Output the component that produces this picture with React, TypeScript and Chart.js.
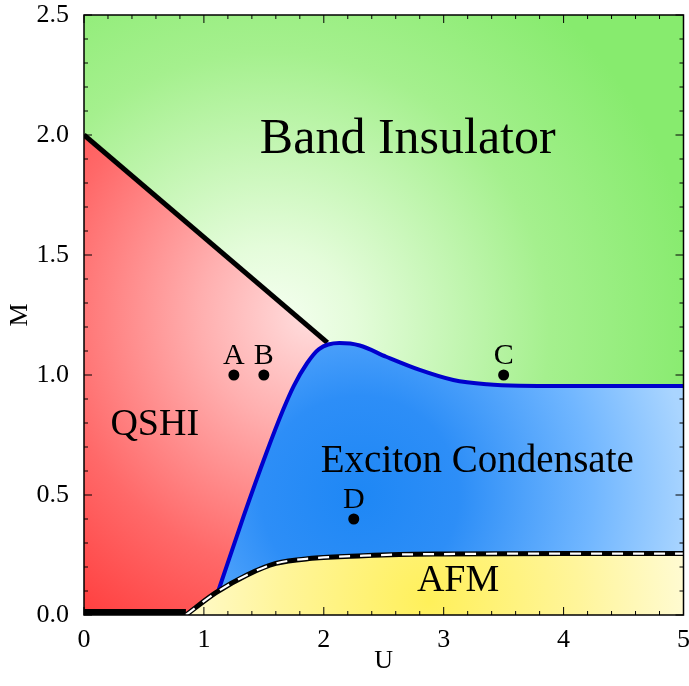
import React, { useEffect, useRef } from 'react';
import { Chart, registerables } from 'chart.js';

Chart.register(...registerables);

// ---------- data (U, M) ----------
const TOP_U = [0, 5];
const TOP_M = [2.5, 2.5];

const QSHI_BI_U = [0, 2.03];
const QSHI_BI_M = [2.0, 1.135];

const EC_U = [1.12, 1.33, 1.52, 1.66, 1.75, 1.86, 1.96, 2.13, 2.3, 2.52, 2.8, 3.08, 3.36, 3.63, 4.0, 4.5, 5.0];
const EC_M = [0.1, 0.41, 0.674, 0.854, 0.955, 1.049, 1.108, 1.133, 1.123, 1.076, 1.021, 0.979, 0.961, 0.955, 0.954, 0.954, 0.954];

const AFM_U = [0.85, 1.1, 1.36, 1.6, 1.9, 2.33, 2.63, 3.0, 4.0, 5.0];
const AFM_M = [0, 0.093, 0.167, 0.215, 0.236, 0.247, 0.252, 0.254, 0.256, 0.256];

const FLOOR_U = [0, 0.85];
const FLOOR_M = [0, 0];

const POINT_NAMES = ['A', 'B', 'C', 'D'];
const POINT_U = [1.25, 1.5, 3.5, 2.25];
const POINT_M = [1.0, 1.0, 1.0, 0.4];

const PHASE_NAMES = ['Band Insulator', 'QSHI', 'Exciton Condensate', 'AFM'];
const PHASE_U = [2.7, 0.59, 3.28, 3.12];
const PHASE_M = [1.98, 0.79, 0.64, 0.14];

const X_TICK_LABELS = ['0', '1', '2', '3', '4', '5'];
const Y_TICK_LABELS = ['0.0', '0.5', '1.0', '1.5', '2.0', '2.5'];

// ---------- styles ----------
const SERIF = '"Liberation Serif", "Times New Roman", serif';
const PHASE_FONT = [50, 38, 39, 38];

const pts = (us: number[], ms: number[]) => us.map((u, i) => ({ x: u, y: ms[i] }));

function radial(chart: any, cu: number, cm: number, r: number, stops: [number, string][]) {
  const { chartArea, scales } = chart;
  if (!chartArea) return 'rgba(0,0,0,0)';
  const cx = scales.x.getPixelForValue(cu);
  const cy = scales.y.getPixelForValue(cm);
  const g = chart.ctx.createRadialGradient(cx, cy, 0, cx, cy, r);
  stops.forEach(([o, c]) => g.addColorStop(o, c));
  return g;
}

const decorPlugin = {
  id: 'decor',
  afterDatasetsDraw(chart: any) {
    const { ctx, chartArea: a, scales } = chart;
    const x = scales.x, y = scales.y;
    ctx.save();
    ctx.fillStyle = '#000';
    ctx.textAlign = 'center';
    ctx.textBaseline = 'middle';
    PHASE_NAMES.forEach((t, i) => {
      ctx.font = `${PHASE_FONT[i]}px ${SERIF}`;
      ctx.fillText(t, x.getPixelForValue(PHASE_U[i]), y.getPixelForValue(PHASE_M[i]));
    });
    ctx.textBaseline = 'alphabetic';
    ctx.font = `30px ${SERIF}`;
    POINT_NAMES.forEach((t, i) => {
      ctx.fillText(t, x.getPixelForValue(POINT_U[i]), y.getPixelForValue(POINT_M[i]) - 11);
    });
    // frame
    ctx.strokeStyle = '#000';
    ctx.lineWidth = 1.5;
    ctx.strokeRect(a.left, a.top, a.right - a.left, a.bottom - a.top);
    // inward ticks
    ctx.lineWidth = 1;
    ctx.beginPath();
    for (let i = 0; i <= 25; i++) {
      const px = x.getPixelForValue(i * 0.2);
      const len = i % 5 === 0 ? 8 : 4;
      ctx.moveTo(px, a.bottom); ctx.lineTo(px, a.bottom - len);
      ctx.moveTo(px, a.top); ctx.lineTo(px, a.top + len);
    }
    for (let i = 0; i <= 25; i++) {
      const py = y.getPixelForValue(i * 0.1);
      const len = i % 5 === 0 ? 8 : 4;
      ctx.moveTo(a.left, py); ctx.lineTo(a.left + len, py);
      ctx.moveTo(a.right, py); ctx.lineTo(a.right - len, py);
    }
    ctx.stroke();
    ctx.restore();
  },
};

const noPt = { pointRadius: 0, pointHoverRadius: 0 };

export default function App() {
  const ref = useRef<HTMLCanvasElement>(null);
  useEffect(() => {
    const chart = new Chart(ref.current as HTMLCanvasElement, {
      type: 'line',
      data: {
        datasets: [
          {
            data: pts(TOP_U, TOP_M),
            order: 10,
            borderWidth: 0,
            fill: 'origin',
            backgroundColor: (c: any) => radial(c.chart, 1.55, 1.18, 430, [
              [0, 'rgb(248,255,244)'],
              [0.2, 'rgb(228,252,218)'],
              [0.65, 'rgb(165,240,142)'],
              [1, 'rgb(135,235,110)'],
            ]),
            ...noPt,
          },
          {
            data: pts(QSHI_BI_U, QSHI_BI_M),
            order: 9,
            borderWidth: 5,
            borderColor: '#000',
            fill: 'origin',
            backgroundColor: (c: any) => radial(c.chart, 1.9, 1.25, 370, [
              [0, 'rgb(255,222,222)'],
              [0.3, 'rgb(255,175,175)'],
              [0.7, 'rgb(255,105,105)'],
              [1, 'rgb(255,65,65)'],
            ]),
            ...noPt,
          },
          {
            data: pts(EC_U, EC_M),
            order: 8,
            borderWidth: 4,
            borderColor: 'rgb(0,0,205)',
            cubicInterpolationMode: 'monotone',
            fill: 'origin',
            backgroundColor: (c: any) => radial(c.chart, 2.3, 0.5, 330, [
              [0, 'rgb(30,135,245)'],
              [0.3, 'rgb(45,142,247)'],
              [0.7, 'rgb(112,182,255)'],
              [1, 'rgb(170,213,255)'],
            ]),
            ...noPt,
          },
          {
            data: pts(AFM_U, AFM_M),
            order: 7,
            borderWidth: 0,
            cubicInterpolationMode: 'monotone',
            fill: 'origin',
            backgroundColor: (c: any) => radial(c.chart, 2.88, 0.06, 300, [
              [0, 'rgb(255,240,90)'],
              [0.5, 'rgb(255,245,155)'],
              [1, 'rgb(255,253,232)'],
            ]),
            ...noPt,
          },
          {
            data: pts(FLOOR_U, FLOOR_M),
            order: 5,
            borderWidth: 12,
            borderColor: '#000',
            fill: false,
            clip: 0,
            ...noPt,
          },
          {
            data: pts(AFM_U, AFM_M),
            order: 4,
            borderWidth: 5,
            borderColor: '#000',
            cubicInterpolationMode: 'monotone',
            fill: false,
            ...noPt,
          },
          {
            data: pts(AFM_U, AFM_M),
            order: 3,
            borderWidth: 2.2,
            borderColor: '#fff',
            borderDash: [11, 10],
            cubicInterpolationMode: 'monotone',
            fill: false,
            ...noPt,
          },
          {
            data: pts(POINT_U, POINT_M),
            order: 1,
            showLine: false,
            pointRadius: 5.5,
            pointHoverRadius: 5.5,
            pointBackgroundColor: '#000',
            pointBorderColor: '#000',
            pointBorderWidth: 0,
            fill: false,
          },
        ],
      } as any,
      options: {
        responsive: false,
        animation: false,
        devicePixelRatio: 1,
        events: [],
        layout: { padding: { top: 15, right: 3, left: 0, bottom: 0 } },
        plugins: { legend: { display: false }, tooltip: { enabled: false } },
        scales: {
          x: {
            type: 'linear',
            min: 0,
            max: 5,
            grid: { display: false },
            border: { display: false },
            ticks: {
              stepSize: 1,
              padding: 2,
              color: '#000',
              font: { family: SERIF, size: 26 },
              maxRotation: 0,
              callback: (_v: any, i: number) => X_TICK_LABELS[i],
            },
            title: {
              display: true,
              text: 'U',
              color: '#000',
              font: { family: SERIF, size: 26 },
              padding: { top: 0, bottom: 9 },
            },
            afterFit: (s: any) => {
              s.height = 71;
              s.paddingLeft = 0; s.paddingRight = 0;
            },
          },
          y: {
            type: 'linear',
            min: 0,
            max: 2.5,
            grid: { display: false },
            border: { display: false },
            ticks: {
              stepSize: 0.5,
              padding: 7,
              color: '#000',
              font: { family: SERIF, size: 26 },
              callback: (_v: any, i: number) => Y_TICK_LABELS[i],
            },
            title: {
              display: true,
              text: 'M',
              color: '#000',
              font: { family: SERIF, size: 26 },
              padding: { top: 5, bottom: 0 },
            },
            afterFit: (s: any) => {
              s.width = 84;
              s.paddingTop = 0; s.paddingBottom = 0;
            },
          },
        },
      } as any,
      plugins: [decorPlugin],
    });
    return () => chart.destroy();
  }, []);
  return (
    <div style={{ position: 'absolute', left: 0, top: 0, width: 689, height: 686, background: '#fff' }}>
      <canvas ref={ref} width={689} height={686} style={{ display: 'block', width: 689, height: 686 }} />
    </div>
  );
}
